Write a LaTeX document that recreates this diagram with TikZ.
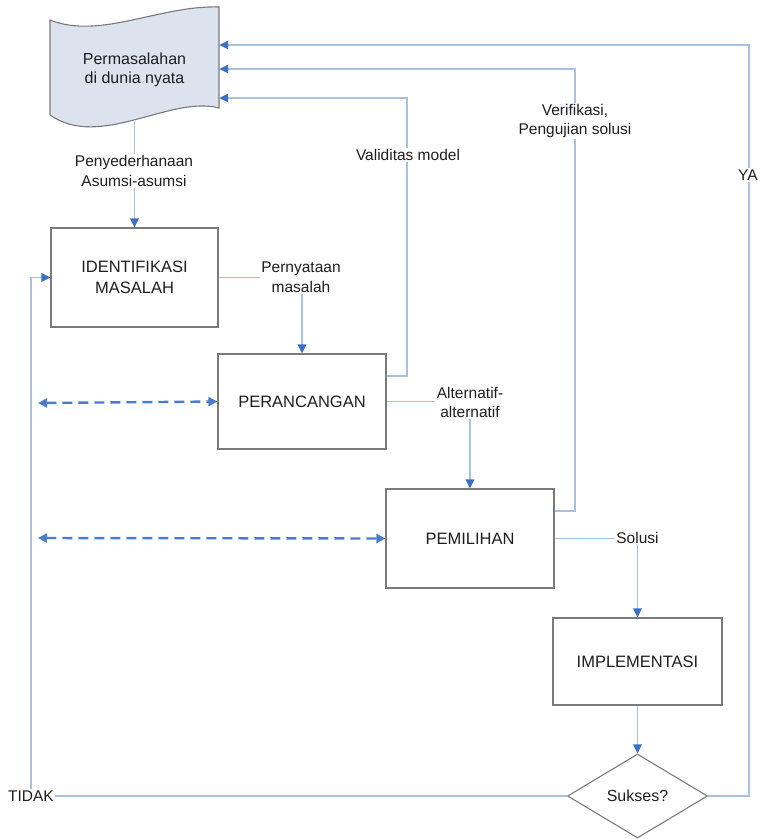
\documentclass[tikz,border=0pt]{standalone}
\usepackage{fontspec}
\setmainfont{Liberation Sans}
\usetikzlibrary{arrows.meta,shapes.geometric}
\definecolor{linecol}{HTML}{A9C1DE}
\definecolor{tipcol}{HTML}{3C6FC8}
\definecolor{dashcol}{HTML}{4A7CC8}
\definecolor{boxcol}{HTML}{7A7A7A}
\definecolor{docfill}{HTML}{DCE3EF}
\definecolor{txtcol}{HTML}{1E1E1E}
\tikzset{
  boxnode/.style={draw=boxcol, line width=1.1pt, rectangle, text=txtcol, align=center,
    font=\fontsize{16.5}{21}\selectfont, inner sep=0pt},
  docnode/.style={rectangle, text=txtcol, align=center, font=\fontsize{16}{19}\selectfont,
    minimum width=169pt, minimum height=102pt, inner sep=0pt},
  lbl/.style={fill=white, text=txtcol, align=center, font=\fontsize{15.5}{19.5}\selectfont, inner sep=1.5pt},
  conn/.style={draw=linecol, line width=1.2pt},
  arr/.style={conn, -{Triangle[length=9pt,width=8.5pt,color=tipcol]}},
  dasharr/.style={draw=dashcol, line width=2.4pt, dash pattern=on 10pt off 6pt,
    {Triangle[length=9pt,width=9pt]}-{Triangle[length=9pt,width=9pt]}},
  decision/.style={diamond, draw=boxcol, line width=1.1pt, text=txtcol,
    font=\fontsize{16}{19}\selectfont, minimum width=140pt, minimum height=84pt,
    aspect=1.67, inner sep=0pt}
}
\begin{document}
\begin{tikzpicture}[x=1pt,y=-1pt]
\useasboundingbox (0,0) rectangle (762,839);
% document shape
\draw[draw=boxcol, line width=1.1pt, fill=docfill]
  (50,20) .. controls (100,40) and (160,5) .. (219,7) -- (219,108)
  .. controls (170,95) and (100,150) .. (50,115) -- cycle;
\node[docnode] (doc) at (134.5,70) {Permasalahan\\di dunia nyata};
% boxes
\node[boxnode, minimum width=167pt, minimum height=99pt] (ident) at (134.5,277.5) {IDENTIFIKASI\\MASALAH};
\node[boxnode, minimum width=168pt, minimum height=95pt] (peran) at (302,401.5) {PERANCANGAN};
\node[boxnode, minimum width=168pt, minimum height=99pt] (pemil) at (470,538.5) {PEMILIHAN};
\node[boxnode, minimum width=169pt, minimum height=87pt] (impl) at (637.5,661.5) {IMPLEMENTASI};
\node[decision] (sukses) at (637.5,796) {Sukses?};
% free ends of dashed arrows
\coordinate (dl1) at (38,403);
\coordinate (dl2) at (38,538);
% connectors
\draw[arr] (doc.south) -- (ident.north);
\draw[arr] (ident.east) -| (peran.north);
\draw[arr] (peran.east) -| (pemil.north);
\draw[arr] (pemil.east) -| (impl.north);
\draw[arr] (impl.south) -- (sukses.north);
\draw[arr] ([yshift=25.5pt]peran.east) -| (407,98) -- (doc.east |- 0,98);
\draw[arr] ([yshift=27.5pt]pemil.east) -| (575,69) -- (doc.east |- 0,69);
\draw[arr] (sukses.east) -| (749,45) -- (doc.east |- 0,45);
\draw[arr] (sukses.west) -| (31,277.5) -- (ident.west);
\draw[dasharr] (dl1) -- (peran.west);
\draw[dasharr] (dl2) -- (pemil.west);
% labels
\node[lbl] (l1) at (134,171) {Penyederhanaan\\Asumsi-asumsi};
\node[lbl] (l2) at (301,277) {Pernyataan\\masalah};
\node[lbl] (l3) at (408,155) {Validitas model};
\node[lbl] (l4) at (470,402.5) {Alternatif-\\alternatif};
\node[lbl] (l5) at (575,121) {Verifikasi,\\Pengujian solusi};
\node[lbl] (l6) at (637.5,538) {Solusi};
\node[lbl] (l7) at (748,175) {YA};
\node[lbl] (l8) at (31,796) {TIDAK};
\end{tikzpicture}
\end{document}
